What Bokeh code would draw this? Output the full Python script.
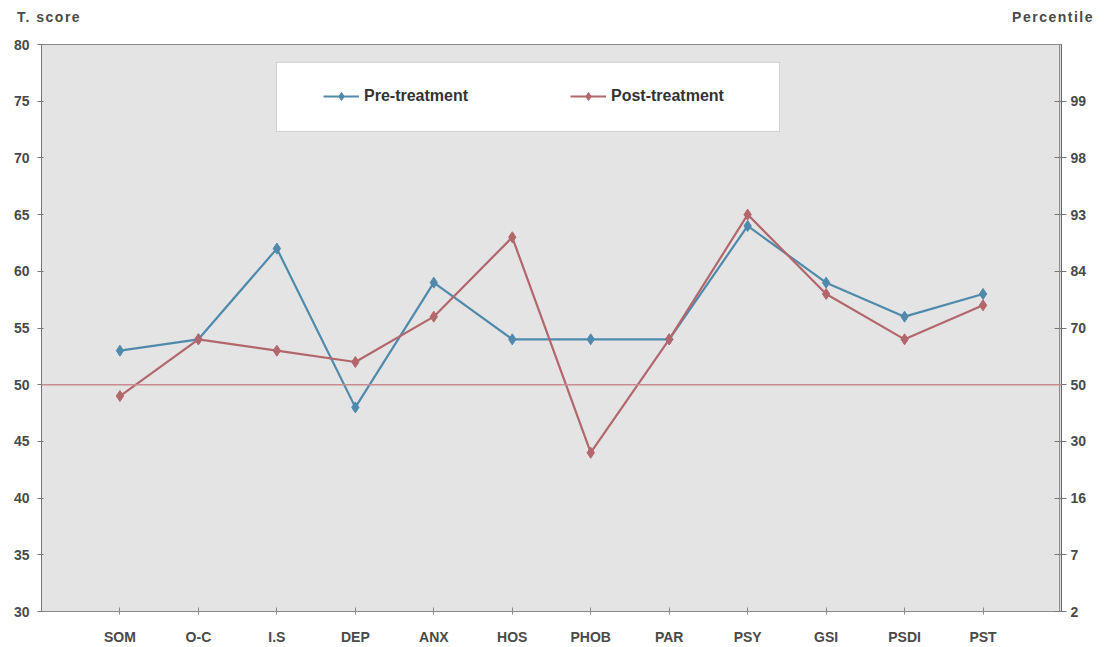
from bokeh.plotting import figure
from bokeh.layouts import column
from bokeh.models import (FixedTicker, LinearAxis, Range1d, Span, Div,
                          Legend, LegendItem, BoxAnnotation)
from bokeh.embed import file_html
from bokeh.resources import INLINE

# SCL-90-R subscale T-scores
categories = ["SOM", "O-C", "I.S", "DEP", "ANX", "HOS", "PHOB", "PAR", "PSY", "GSI", "PSDI", "PST"]
pre_treatment = [53, 54, 62, 48, 59, 54, 54, 54, 64, 59, 56, 58]
post_treatment = [49, 54, 53, 52, 56, 63, 44, 54, 65, 58, 54, 57]

t_ticks = [30, 35, 40, 45, 50, 55, 60, 65, 70, 75, 80]
percentile_ticks = [30, 35, 40, 45, 50, 55, 60, 65, 70, 75]
percentile_labels = ["2", "7", "16", "30", "50", "70", "84", "93", "98", "99"]
reference_t = 50

xs = list(range(1, len(categories) + 1))

BLUE = "#4f89ab"
RED = "#b2676c"
TEXT = "#4a4a4a"
FONT = "Liberation Sans"

# axis captions sitting above the chart
caption_style = (f"position:absolute;top:7px;font-family:'Liberation Sans';"
                 f"font-weight:bold;font-size:14px;color:{TEXT};white-space:nowrap;"
                 "letter-spacing:1.5px;")
header = Div(
    text=('<div style="position:relative;width:1109px;height:26px;">'
          f'<span style="{caption_style}left:17px;">T. score</span>'
          f'<span style="{caption_style}right:15px;">Percentile</span></div>'),
    width=1109, height=26, margin=0)

p = figure(width=1109, height=621, output_backend="svg", toolbar_location=None,
           x_range=Range1d(0, len(categories) + 1), y_range=Range1d(30, 80),
           min_border_left=41, min_border_right=48, min_border_top=18, min_border_bottom=35,
           background_fill_color="#e4e4e4", border_fill_color="#ffffff",
           outline_line_color="#8a8a8a", outline_line_width=1, margin=0)
p.grid.visible = False

# left axis: T score
p.yaxis.ticker = FixedTicker(ticks=t_ticks)
p.yaxis.axis_line_color = "#777777"
p.yaxis.major_tick_line_color = "#777777"
p.yaxis.major_tick_out = 4
p.yaxis.major_tick_in = 2
p.yaxis.minor_tick_line_color = None
p.yaxis.major_label_text_font = FONT
p.yaxis.major_label_text_font_style = "bold"
p.yaxis.major_label_text_font_size = "14px"
p.yaxis.major_label_text_color = TEXT
p.yaxis.major_label_standoff = 8

# bottom axis: subscales
p.xaxis.ticker = FixedTicker(ticks=xs)
p.xaxis.major_label_overrides = {x: c for x, c in zip(xs, categories)}
p.xaxis.axis_line_color = "#8a8a8a"
p.xaxis.major_tick_line_color = "#8a8a8a"
p.xaxis.major_tick_out = 3
p.xaxis.major_tick_in = 4
p.xaxis.minor_tick_line_color = None
p.xaxis.major_label_text_font = FONT
p.xaxis.major_label_text_font_style = "bold"
p.xaxis.major_label_text_font_size = "14px"
p.xaxis.major_label_text_color = TEXT
p.xaxis.major_label_standoff = 14

# right axis: percentile equivalents (drawn as a double rule)
right = LinearAxis(ticker=FixedTicker(ticks=percentile_ticks),
                   major_label_overrides={t: s for t, s in zip(percentile_ticks, percentile_labels)})
right.axis_line_color = "#666666"
right.axis_line_width = 1
right.major_tick_line_color = "#777777"
right.major_tick_in = 7
right.major_tick_out = 5
right.minor_tick_line_color = None
right.major_label_text_font = FONT
right.major_label_text_font_style = "bold"
right.major_label_text_font_size = "14px"
right.major_label_text_color = TEXT
right.major_label_standoff = 4
p.add_layout(right, "right")
p.add_layout(Span(location=len(categories) + 0.975, dimension="height",
                  line_color="#888888", line_width=1))

# mean reference line
p.add_layout(Span(location=reference_t, dimension="width",
                  line_color="#c98b90", line_width=1.5))

# legend box
p.add_layout(BoxAnnotation(left=2.995, right=9.406, bottom=72.34, top=78.42,
                           fill_color="white", fill_alpha=1,
                           line_color="#8a8a8a", line_width=1, level="annotation"))

pre_line = p.line(xs, pre_treatment, line_color=BLUE, line_width=2.2)
pre_pts = p.scatter(xs, pre_treatment, marker="diamond", size=11,
                    fill_color=BLUE, line_color=BLUE)
post_line = p.line(xs, post_treatment, line_color=RED, line_width=2.2)
post_pts = p.scatter(xs, post_treatment, marker="diamond", size=11,
                     fill_color=RED, line_color=RED)

legend = Legend(items=[LegendItem(label="Pre-treatment", renderers=[pre_line, pre_pts]),
                       LegendItem(label="Post-treatment", renderers=[post_line, post_pts])],
                orientation="horizontal", location=(272, 495),
                padding=10, spacing=6, glyph_width=36, glyph_height=20,
                label_standoff=5, label_width=200,
                label_text_font=FONT, label_text_font_style="bold",
                label_text_font_size="16px", label_text_color="#333333",
                background_fill_alpha=0, border_line_alpha=0)
p.add_layout(legend, "center")

layout = column(header, p, spacing=0)
open("out.html", "w").write(file_html(layout, INLINE))
